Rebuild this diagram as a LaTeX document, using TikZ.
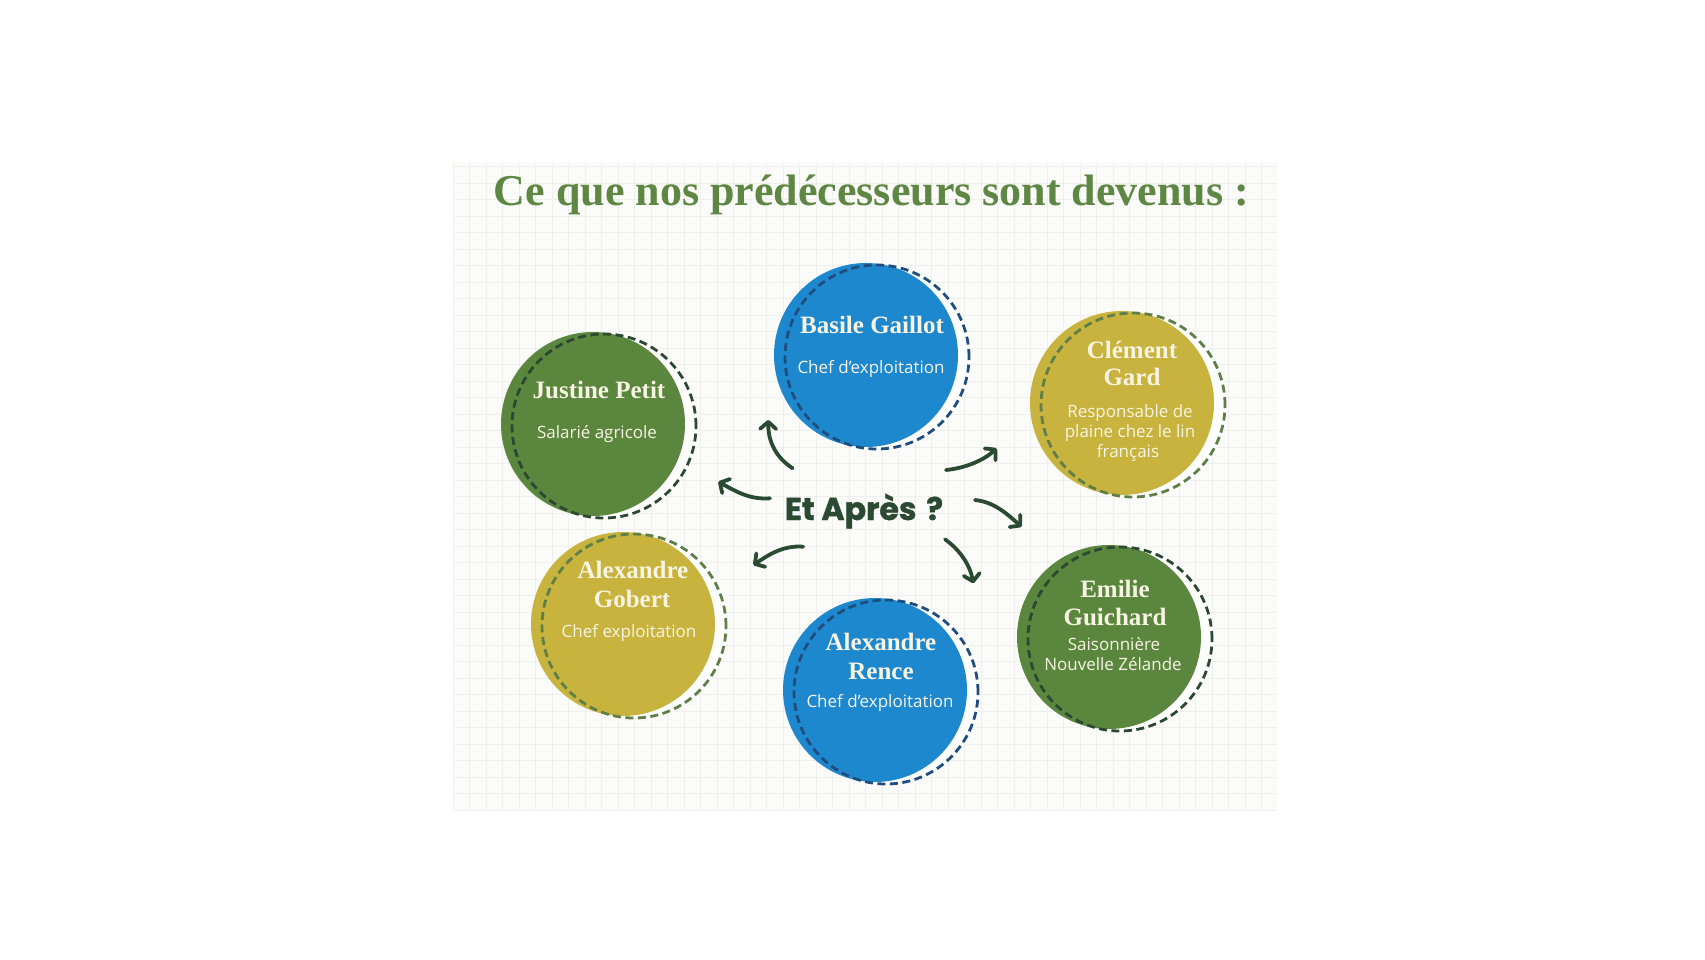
\documentclass[tikz,border=0pt]{standalone}
\usepackage{fontspec}
\usetikzlibrary{arrows.meta}
\newfontfamily\namefont{Liberation Serif}
\newfontfamily\subfont{Open Sans}
\newfontfamily\etfont{Poppins}[BoldFeatures={FakeBold=1.2}]
\definecolor{titlegreen}{RGB}{93,135,66}
\definecolor{cgreen}{RGB}{91,134,62}
\definecolor{cblue}{RGB}{30,136,207}
\definecolor{cgold}{RGB}{199,179,61}
\definecolor{dgreen}{RGB}{44,72,50}
\definecolor{dblue}{RGB}{31,77,125}
\definecolor{dgold}{RGB}{95,127,72}
\definecolor{arrowgreen}{RGB}{43,74,50}
\definecolor{cream}{RGB}{248,244,228}
\definecolor{paper}{RGB}{251,251,249}
\definecolor{gridc}{RGB}{239,240,237}
\begin{document}
\begin{tikzpicture}[x=1pt,y=-1pt,
  pdisc/.style={circle, fill=#1, minimum size=184pt, inner sep=0pt},
  phalo/.style={circle, fill=white, minimum size=188pt, inner sep=0pt},
  pring/.style={circle, draw=#1, line width=2.8pt, dash pattern=on 8pt off 4.5pt, minimum size=184pt, inner sep=0pt},
  pname/.style={text=cream, font=\namefont\bfseries\fontsize{25}{29}\selectfont, anchor=base, inner sep=0pt},
  prole/.style={text=cream, font=\subfont\fontsize{17}{20}\selectfont, anchor=base, inner sep=0pt},
  pflow/.style={draw=arrowgreen, line width=3.8pt, line cap=round, -{Straight Barb[length=7pt,width=16pt,round]}},
  pgrid/.style={draw=gridc, line width=0.6pt}
]
\useasboundingbox[fill=white] (0,0) rectangle (1705,959);
% paper
\fill[paper] (453,163) rectangle (1277,810);
\foreach \i in {0,...,49} {\draw[pgrid] (453+\i*16.5,163) -- (453+\i*16.5,810);}
\foreach \j in {0,...,39} {\draw[pgrid] (453,810-\j*16.5) -- (1277,810-\j*16.5);}
% title
\node[anchor=base, text=titlegreen, font=\namefont\bfseries\fontsize{44}{50}\selectfont, inner sep=0pt] (title) at (871.5,205) {Ce que nos prédécesseurs sont devenus :};
% Justine
\node[phalo] (justineH) at (604,426) {};
\node[pdisc=cgreen] (justine) at (593,424) {};
\node[pring=dgreen] (justineR) at (604,426) {};
\node[pname] (justineN) at (599,398) {Justine Petit};
\node[prole] (justineS) at (597,438) {Salarié agricole};
% Basile
\node[phalo] (basileH) at (877,357) {};
\node[pdisc=cblue] (basile) at (866,355) {};
\node[pring=dblue] (basileR) at (877,357) {};
\node[pname] (basileN) at (872,333) {Basile Gaillot};
\node[prole] (basileS) at (871,373) {Chef d’exploitation};
% Clement
\node[phalo] (clementH) at (1133,405) {};
\node[pdisc=cgold] (clement) at (1122,403) {};
\node[pring=dgold] (clementR) at (1133,405) {};
\node[pname] (clementN1) at (1132,358) {Clément};
\node[pname] (clementN2) at (1132,385) {Gard};
\node[prole] (clementS1) at (1130,417) {Responsable de};
\node[prole] (clementS2) at (1130,437) {plaine chez le lin};
\node[prole] (clementS3) at (1128,457) {français};
% Gobert
\node[phalo] (gobertH) at (634,626) {};
\node[pdisc=cgold] (gobert) at (623,624) {};
\node[pring=dgold] (gobertR) at (634,626) {};
\node[pname] (gobertN1) at (633,578) {Alexandre};
\node[pname] (gobertN2) at (632,607) {Gobert};
\node[prole] (gobertS) at (629,637) {Chef exploitation};
% Rence
\node[phalo] (renceH) at (886,692) {};
\node[pdisc=cblue] (rence) at (875,690) {};
\node[pring=dblue] (renceR) at (886,692) {};
\node[pname] (renceN1) at (881,650) {Alexandre};
\node[pname] (renceN2) at (881,679) {Rence};
\node[prole] (renceS) at (880,707) {Chef d’exploitation};
% Emilie
\node[phalo] (emilieH) at (1120,639) {};
\node[pdisc=cgreen] (emilie) at (1109,637) {};
\node[pring=dgreen] (emilieR) at (1120,639) {};
\node[pname] (emilieN1) at (1115,597) {Emilie};
\node[pname] (emilieN2) at (1115,625) {Guichard};
\node[prole] (emilieS1) at (1114,650) {Saisonnière};
\node[prole] (emilieS2) at (1113,670) {Nouvelle Zélande};
% centre
\node[anchor=base, text=arrowgreen, font=\etfont\bfseries\fontsize{31.5}{36}\selectfont, inner sep=0pt] (apres) at (864,520) {Et Après\hspace{3pt} ?};
% arrows
\coordinate (a1s) at (792.7,468.3); \coordinate (a1e) at (768.3,420);
\coordinate (a2s) at (770,498.3);   \coordinate (a2e) at (718.3,481.7);
\coordinate (a3s) at (946,470);     \coordinate (a3e) at (996.7,448.3);
\coordinate (a4s) at (975,500);     \coordinate (a4e) at (1021.7,526.7);
\coordinate (a5s) at (945,539.3);   \coordinate (a5e) at (973.3,583.3);
\coordinate (a6s) at (803.3,546.7); \coordinate (a6e) at (753.3,565);
\draw[pflow] (a1s) .. controls (772,455) and (768,436) .. (a1e);
\draw[pflow] (a2s) .. controls (750,500) and (735,491) .. (a2e);
\draw[pflow] (a3s) .. controls (966,468) and (984,460) .. (a3e);
\draw[pflow] (a4s) .. controls (995,502) and (1008,515) .. (a4e);
\draw[pflow] (a5s) .. controls (960,550) and (970,565) .. (a5e);
\draw[pflow] (a6s) .. controls (782,545) and (767,556) .. (a6e);
\end{tikzpicture}
\end{document}
